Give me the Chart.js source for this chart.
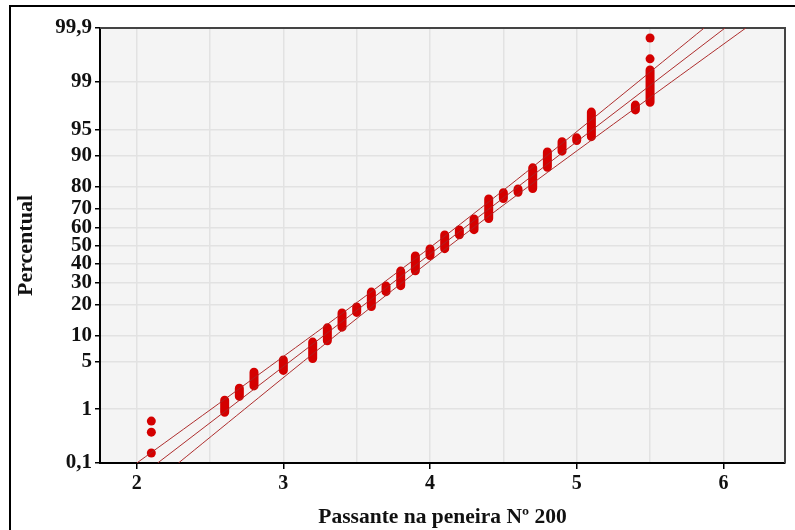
<!DOCTYPE html>
<html>
<head>
<meta charset="utf-8">
<script src="https://cdn.jsdelivr.net/npm/chart.js@4.4.1/dist/chart.umd.min.js"></script>
<style>
  body { margin: 0; background: #fff; }
  #wrap { width: 795px; height: 530px; position: relative; }
</style>
</head>
<body>
<div id="wrap"><canvas id="probplot"></canvas></div>
<script>
// percent ticks of the probability axis
const yTickPct = [0.1, 1, 5, 10, 20, 30, 40, 50, 60, 70, 80, 90, 95, 99, 99.9];
const yTickLabels = ['0,1', '1', '5', '10', '20', '30', '40', '50', '60', '70', '80', '90', '95', '99', '99,9'];
const xTicks = [2, 2.5, 3, 3.5, 4, 4.5, 5, 5.5, 6];

// tied values -> each x has a run of percents (low..high)
const colX    = [2.6, 2.7, 2.8, 3.0, 3.2, 3.3, 3.4, 3.5, 3.6, 3.7, 3.8, 3.9, 4.0, 4.1, 4.2, 4.3, 4.4, 4.5, 4.6, 4.7, 4.8, 4.9, 5.0, 5.1, 5.4, 5.5];
const colLow  = [0.89, 1.6, 2.3, 3.8, 5.4, 8.8, 12.3, 17.1, 19.3, 25.6, 28.4, 36.0, 44.3, 48.2, 56.1, 58.9, 64.9, 74.8, 77.5, 79.1, 86.7, 91.0, 93.2, 93.9, 97.3, 97.9];
const colHigh = [1.40, 2.13, 3.6, 5.2, 8.5, 12.1, 16.9, 19.1, 25.4, 28.2, 35.8, 44.1, 48.0, 55.9, 58.7, 64.7, 74.6, 77.3, 78.9, 86.5, 90.8, 93.0, 93.7, 97.1, 97.7, 99.37];

// single points
const dotX   = [2.1, 2.1, 2.1, 5.5, 5.5];
const dotPct = [0.16, 0.40, 0.63, 99.60, 99.84];

// fitted line and confidence band
const fitX = [2.143, 6.011];
const fitPct = [0.1, 99.9];
const bandPct   = [0.1, 1, 5, 20, 50, 80, 95, 99, 99.9];
const bandLeft  = [2.001, 2.507, 2.956, 3.481, 4.018, 4.535, 5.016, 5.419, 5.869];
const bandRight = [2.285, 2.735, 3.138, 3.619, 4.136, 4.673, 5.198, 5.647, 6.153];

// inverse normal cdf (Acklam)
function invNorm(p) {
  const a = [-3.969683028665376e+01, 2.209460984245205e+02, -2.759285104469687e+02, 1.383577518672690e+02, -3.066479806614716e+01, 2.506628277459239e+00];
  const b = [-5.447609879822406e+01, 1.615858368580409e+02, -1.556989798598866e+02, 6.680131188771972e+01, -1.328068155288572e+01];
  const c = [-7.784894002430293e-03, -3.223964580411365e-01, -2.400758277161838e+00, -2.549732539343734e+00, 4.374664141464968e+00, 2.938163982698783e+00];
  const d = [7.784695709041462e-03, 3.224671290700398e-01, 2.445134137142996e+00, 3.754408661907416e+00];
  const pl = 0.02425;
  let q, r;
  if (p < pl) {
    q = Math.sqrt(-2 * Math.log(p));
    return (((((c[0]*q+c[1])*q+c[2])*q+c[3])*q+c[4])*q+c[5]) / ((((d[0]*q+d[1])*q+d[2])*q+d[3])*q+1);
  }
  if (p > 1 - pl) {
    q = Math.sqrt(-2 * Math.log(1 - p));
    return -(((((c[0]*q+c[1])*q+c[2])*q+c[3])*q+c[4])*q+c[5]) / ((((d[0]*q+d[1])*q+d[2])*q+d[3])*q+1);
  }
  q = p - 0.5; r = q * q;
  return (((((a[0]*r+a[1])*r+a[2])*r+a[3])*r+a[4])*r+a[5])*q / (((((b[0]*r+b[1])*r+b[2])*r+b[3])*r+b[4])*r+1);
}
const z = pct => invNorm(pct / 100);

const runs = [];
colX.forEach((x, i) => {
  runs.push({ x: x, y: z(colLow[i]) });
  runs.push({ x: x, y: z(colHigh[i]) });
  runs.push({ x: x, y: null });
});

const red = 'rgb(212,0,0)';
const lineRed = 'rgba(170,35,35,0.95)';
const serif = "'Liberation Serif', 'Times New Roman', serif";

const frame = {
  id: 'frame',
  beforeDraw(chart) {
    const { ctx, chartArea: a } = chart;
    ctx.save();
    ctx.fillStyle = '#fff';
    ctx.fillRect(0, 0, chart.width, chart.height);
    ctx.strokeStyle = '#000';
    ctx.lineWidth = 2;
    ctx.beginPath();
    ctx.moveTo(10, 530); ctx.lineTo(10, 6); ctx.lineTo(795, 6);
    ctx.stroke();
    ctx.fillStyle = '#f4f4f4';
    ctx.fillRect(a.left, a.top, a.right - a.left, a.bottom - a.top);
    ctx.restore();
  },
  beforeDatasetsDraw(chart) {
    const { ctx, chartArea: a } = chart;
    ctx.save();
    ctx.strokeStyle = '#444';
    ctx.lineWidth = 2;
    ctx.beginPath();
    ctx.moveTo(a.left, a.top); ctx.lineTo(a.right, a.top); ctx.lineTo(a.right, a.bottom);
    ctx.stroke();
    ctx.restore();
  }
};

new Chart(document.getElementById('probplot'), {
  type: 'scatter',
  data: {
    datasets: [
      {
        type: 'line',
        data: fitX.map((x, i) => ({ x: x, y: z(fitPct[i]) })),
        borderColor: lineRed, borderWidth: 1, pointRadius: 0, order: 0
      },
      {
        type: 'line',
        data: bandLeft.map((x, i) => ({ x: x, y: z(bandPct[i]) })),
        borderColor: lineRed, borderWidth: 1, pointRadius: 0, tension: 0.3, order: 0
      },
      {
        type: 'line',
        data: bandRight.map((x, i) => ({ x: x, y: z(bandPct[i]) })),
        borderColor: lineRed, borderWidth: 1, pointRadius: 0, tension: 0.3, order: 0
      },
      {
        type: 'line',
        data: runs,
        borderColor: red, borderWidth: 9, borderCapStyle: 'round',
        pointRadius: 0, spanGaps: false, order: 1
      },
      {
        data: dotX.map((x, i) => ({ x: x, y: z(dotPct[i]) })),
        backgroundColor: red, borderWidth: 0, pointRadius: 4.5, order: 1
      }
    ]
  },
  options: {
    responsive: true,
    maintainAspectRatio: false,
    animation: false,
    layout: { padding: { left: 10, right: 10, top: 28, bottom: 0 } },
    plugins: { legend: { display: false }, tooltip: { enabled: false } },
    scales: {
      x: {
        type: 'linear',
        min: 1.75, max: 6.42,
        afterFit: s => { s.height = 67; },
        afterBuildTicks: s => { s.ticks = xTicks.map(v => ({ value: v })); },
        grid: {
          color: '#e2e2e2', lineWidth: 1.5,
          tickColor: c => (c.tick && c.tick.value % 1 === 0) ? '#000' : 'rgba(0,0,0,0)',
          tickLength: 6, tickWidth: 1.5
        },
        border: { color: '#000', width: 2 },
        ticks: {
          autoSkip: false, maxRotation: 0, padding: 3, color: '#111',
          font: { family: serif, size: 20, weight: 'bold' },
          callback: v => (v % 1 === 0 ? String(v) : '')
        },
        title: {
          display: true, text: 'Passante na peneira Nº 200', color: '#111',
          font: { family: serif, size: 21.5, weight: 'bold' }, padding: 0
        }
      },
      y: {
        type: 'linear',
        min: z(0.1), max: z(99.9),
        afterFit: s => { s.width = 90; },
        afterBuildTicks: s => { s.ticks = yTickPct.map(p => ({ value: z(p) })); },
        grid: { color: '#e2e2e2', lineWidth: 1.5, tickColor: '#000', tickLength: 5, tickWidth: 1.5 },
        border: { color: '#000', width: 2 },
        ticks: {
          autoSkip: false, padding: 3, color: '#111',
          font: { family: serif, size: 21, weight: 'bold' },
          callback: (v, i) => yTickLabels[i]
        },
        title: {
          display: true, text: 'Percentual', color: '#111',
          font: { family: serif, size: 22, weight: 'bold' }, padding: { top: 3, bottom: 0 }
        }
      }
    }
  },
  plugins: [frame]
});
</script>
</body>
</html>
